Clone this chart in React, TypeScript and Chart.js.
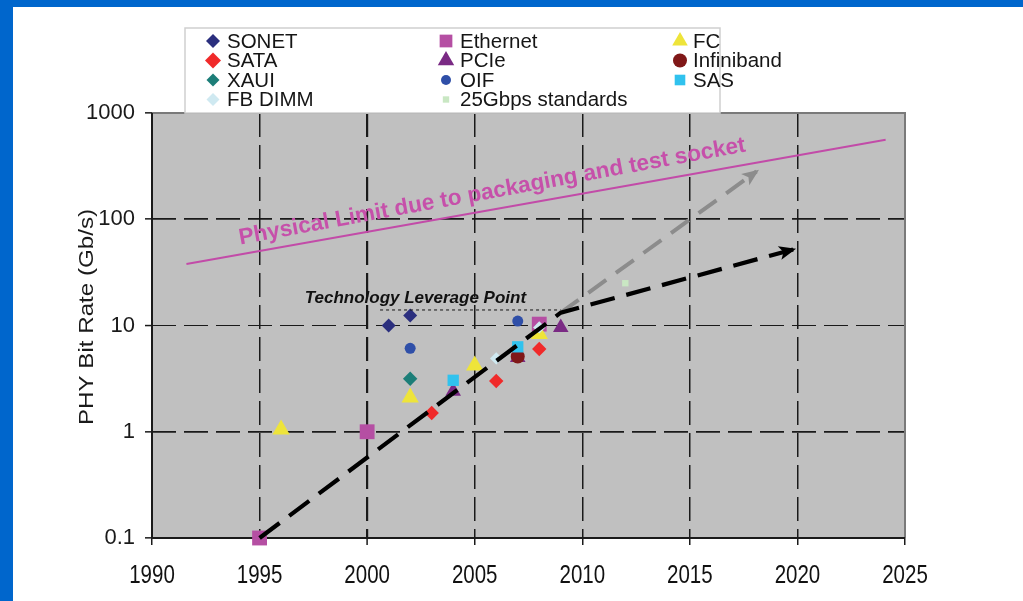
import React, { useEffect, useRef } from 'react';
import { Chart, registerables } from 'chart.js';

Chart.register(...registerables);

// ---------- axis definitions ----------
const YEAR_MIN = 1990;
const YEAR_MAX = 2025;
const YEAR_STEP = 5;
const RATE_TICKS = [0.1, 1, 10, 100, 1000];
const Y_TITLE = 'PHY Bit Rate (Gb/s)';

// ---------- standards (year, Gb/s) ----------
const SONET_X = [2001, 2002];
const SONET_Y = [10, 12.4];
const ETHERNET_X = [1995, 2000, 2008];
const ETHERNET_Y = [0.1, 1, 10.3];
const FC_X = [1996, 2002, 2005, 2008];
const FC_Y = [1.05, 2.1, 4.2, 8.3];
const SATA_X = [2003, 2006, 2008];
const SATA_Y = [1.5, 3, 6];
const PCIE_X = [2004, 2007, 2009];
const PCIE_Y = [2.4, 5, 9.6];
const INFINIBAND_X = [2007];
const INFINIBAND_Y = [5.1];
const XAUI_X = [2002];
const XAUI_Y = [3.15];
const OIF_X = [2002, 2007];
const OIF_Y = [6.1, 11];
const SAS_X = [2004, 2007];
const SAS_Y = [3.05, 6.3];
const FBDIMM_X = [2006, 2008];
const FBDIMM_Y = [4.9, 9.6];
const G25_X = [2012];
const G25_Y = [25];

// ---------- trend lines ----------
const PHYS_LIMIT_X = [1991.6, 2024.1];
const PHYS_LIMIT_Y = [38, 560];
const TREND_X = [1995, 2009, 2019.8];
const TREND_Y = [0.1, 13.2, 52];
const PROJ_HIGH_X = [2009, 2018.1];
const PROJ_HIGH_Y = [13.2, 282];
const LEVERAGE_X = [2000.6, 2009];
const LEVERAGE_Y = [14, 14];

const PHYS_LABEL = 'Physical Limit due to packaging and test socket';
const PHYS_LABEL_AT = [1994.1, 58];
const LEVERAGE_LABEL = 'Technology Leverage Point';
const LEVERAGE_LABEL_AT = [1997.1, 16.3];

const SERIES = [
  { label: 'SONET', xs: SONET_X, ys: SONET_Y, color: '#2B2F7E', style: 'rectRot', r: 7, lr: 7 },
  { label: 'Ethernet', xs: ETHERNET_X, ys: ETHERNET_Y, color: '#B54FA3', style: 'rect', r: 10.5, lr: 9 },
  { label: 'FC', xs: FC_X, ys: FC_Y, color: '#EEE43A', style: 'triangle', r: 10, lr: 9 },
  { label: 'SATA', xs: SATA_X, ys: SATA_Y, color: '#F02A2A', style: 'rectRot', r: 7.2, lr: 8 },
  { label: 'PCIe', xs: PCIE_X, ys: PCIE_Y, color: '#7A2A84', style: 'triangle', r: 9, lr: 9.5 },
  { label: 'Infiniband', xs: INFINIBAND_X, ys: INFINIBAND_Y, color: '#801818', style: 'circle', r: 7, lr: 7 },
  { label: 'XAUI', xs: XAUI_X, ys: XAUI_Y, color: '#1C7E78', style: 'rectRot', r: 7.2, lr: 6.5 },
  { label: 'OIF', xs: OIF_X, ys: OIF_Y, color: '#2F4FA8', style: 'circle', r: 5.5, lr: 5 },
  { label: 'SAS', xs: SAS_X, ys: SAS_Y, color: '#30C2EE', style: 'rect', r: 8, lr: 7.5 },
  { label: 'FB DIMM', xs: FBDIMM_X, ys: FBDIMM_Y, color: '#CFE9F1', style: 'rectRot', r: 6.2, lr: 6.5 },
  { label: '25Gbps standards', xs: G25_X, ys: G25_Y, color: '#C9E7C3', style: 'rect', r: 4.5, lr: 4.5 },
];

const LINES = [
  { label: 'trend', xs: TREND_X, ys: TREND_Y, color: '#000000', width: 4.2, dash: [25, 12], arrow: true },
  { label: 'projection', xs: PROJ_HIGH_X, ys: PROJ_HIGH_Y, color: '#8C8C8C', width: 4, dash: [22, 12], arrow: true },
  { label: 'physical', xs: PHYS_LIMIT_X, ys: PHYS_LIMIT_Y, color: '#C24BA8', width: 2, dash: [], arrow: false },
  { label: 'leverage', xs: LEVERAGE_X, ys: LEVERAGE_Y, color: '#111111', width: 1, dash: [3, 3], arrow: false },
];

const SANS = '"Liberation Sans", Arial, sans-serif';

const pts = (xs: number[], ys: number[]) => xs.map((x, i) => ({ x, y: ys[i] }));

function drawMarker(ctx: CanvasRenderingContext2D, style: string, x: number, y: number, r: number, color: string) {
  ctx.save();
  ctx.fillStyle = color;
  ctx.beginPath();
  if (style === 'rectRot') {
    ctx.moveTo(x, y - r); ctx.lineTo(x + r, y); ctx.lineTo(x, y + r); ctx.lineTo(x - r, y);
  } else if (style === 'rect') {
    const s = r * Math.SQRT1_2;
    ctx.rect(x - s, y - s, 2 * s, 2 * s);
  } else if (style === 'triangle') {
    ctx.moveTo(x, y - r); ctx.lineTo(x + r * 0.866, y + r / 2); ctx.lineTo(x - r * 0.866, y + r / 2);
  } else {
    ctx.arc(x, y, r, 0, Math.PI * 2);
  }
  ctx.closePath();
  ctx.fill();
  ctx.restore();
}

const decor = {
  id: 'decor',
  beforeDraw(chart: any) {
    const { ctx, chartArea: a } = chart;
    ctx.save();
    ctx.fillStyle = '#ffffff';
    ctx.fillRect(0, 0, chart.width, chart.height);
    ctx.fillStyle = '#0066CC';
    ctx.fillRect(0, 0, chart.width, 7);
    ctx.fillRect(0, 0, 13, chart.height);
    ctx.fillStyle = '#C0C0C0';
    ctx.fillRect(a.left, a.top, a.right - a.left, a.bottom - a.top);
    ctx.restore();
  },
  beforeDatasetsDraw(chart: any) {
    const { ctx, chartArea: a } = chart;
    ctx.save();
    ctx.setLineDash([]);
    ctx.lineWidth = 2;
    ctx.strokeStyle = '#7A7A7A';
    ctx.beginPath();
    ctx.moveTo(a.left, a.top); ctx.lineTo(a.right, a.top); ctx.lineTo(a.right, a.bottom);
    ctx.stroke();
    ctx.strokeStyle = '#1A1A1A';
    ctx.beginPath();
    ctx.moveTo(a.left, a.top); ctx.lineTo(a.left, a.bottom); ctx.lineTo(a.right, a.bottom);
    ctx.stroke();
    ctx.restore();
  },
  afterDatasetsDraw(chart: any) {
    const { ctx } = chart;
    const sx = chart.scales.x;
    const sy = chart.scales.y;
    // arrow heads
    LINES.forEach((l, i) => {
      if (!l.arrow) return;
      const meta = chart.getDatasetMeta(i);
      const n = meta.data.length;
      const p0 = meta.data[n - 2];
      const p1 = meta.data[n - 1];
      const ang = Math.atan2(p1.y - p0.y, p1.x - p0.x);
      ctx.save();
      ctx.translate(p1.x, p1.y);
      ctx.rotate(ang);
      ctx.fillStyle = l.color;
      ctx.beginPath();
      ctx.moveTo(3, 0);
      ctx.lineTo(-14, -7);
      ctx.lineTo(-10, 0);
      ctx.lineTo(-14, 7);
      ctx.closePath();
      ctx.fill();
      ctx.restore();
    });
    // physical limit label
    const q0x = sx.getPixelForValue(PHYS_LIMIT_X[0]);
    const q0y = sy.getPixelForValue(PHYS_LIMIT_Y[0]);
    const q1x = sx.getPixelForValue(PHYS_LIMIT_X[1]);
    const q1y = sy.getPixelForValue(PHYS_LIMIT_Y[1]);
    const ang = Math.atan2(q1y - q0y, q1x - q0x) - 0.006;
    ctx.save();
    ctx.translate(sx.getPixelForValue(PHYS_LABEL_AT[0]), sy.getPixelForValue(PHYS_LABEL_AT[1]));
    ctx.rotate(ang);
    ctx.font = `bold 22.6px ${SANS}`;
    ctx.fillStyle = '#C650AA';
    ctx.textAlign = 'left';
    ctx.textBaseline = 'alphabetic';
    ctx.fillText(PHYS_LABEL, 0, 0);
    ctx.restore();
    // leverage label
    ctx.save();
    ctx.font = `italic bold 17px ${SANS}`;
    ctx.fillStyle = '#111111';
    ctx.textAlign = 'left';
    ctx.textBaseline = 'alphabetic';
    ctx.fillText(LEVERAGE_LABEL, sx.getPixelForValue(LEVERAGE_LABEL_AT[0]), sy.getPixelForValue(LEVERAGE_LABEL_AT[1]));
    ctx.restore();
  },
  afterDraw(chart: any) {
    const { ctx, chartArea: a } = chart;
    const sx = chart.scales.x;
    // x tick labels (tall, narrow lettering)
    ctx.save();
    ctx.font = `25px ${SANS}`;
    ctx.fillStyle = '#111111';
    ctx.textAlign = 'center';
    ctx.textBaseline = 'middle';
    sx.ticks.forEach((t: any) => {
      ctx.save();
      ctx.translate(sx.getPixelForValue(t.value), a.bottom + 38);
      ctx.scale(0.82, 1);
      ctx.fillText(String(t.value), 0, 0);
      ctx.restore();
    });
    ctx.restore();
    // y title
    ctx.save();
    ctx.translate(a.left - 65, 317);
    ctx.rotate(-Math.PI / 2);
    ctx.scale(1.15, 1);
    ctx.font = `21px ${SANS}`;
    ctx.fillStyle = '#1A1A1A';
    ctx.textAlign = 'center';
    ctx.textBaseline = 'middle';
    ctx.fillText(Y_TITLE, 0, 0);
    ctx.restore();
    // legend box
    const bx = 185, by = 28, bw = 535, bh = 85;
    ctx.save();
    ctx.fillStyle = '#ffffff';
    ctx.fillRect(bx, by, bw, bh);
    ctx.strokeStyle = '#CFCFCF';
    ctx.lineWidth = 1.5;
    ctx.strokeRect(bx, by, bw, bh);
    const markerX = [28, 261, 495];
    const textX = [42, 275, 508];
    const rowY = [13, 32.5, 52, 71.5];
    ctx.font = `20.5px ${SANS}`;
    ctx.textBaseline = 'middle';
    ctx.textAlign = 'left';
    SERIES.forEach((s, i) => {
      const c = i % 3;
      const r = Math.floor(i / 3);
      drawMarker(ctx, s.style, bx + markerX[c], by + rowY[r], s.lr, s.color);
      ctx.fillStyle = '#151515';
      ctx.fillText(s.label, bx + textX[c], by + rowY[r] + 1);
    });
    ctx.restore();
  },
};

export default function App() {
  const ref = useRef<HTMLCanvasElement | null>(null);
  useEffect(() => {
    document.body.style.margin = '0';
    const canvas = ref.current;
    if (!canvas) return;
    const lineSets = LINES.map((l) => ({
      label: l.label,
      data: pts(l.xs, l.ys),
      showLine: true,
      borderColor: l.color,
      backgroundColor: l.color,
      borderWidth: l.width,
      borderDash: l.dash,
      borderCapStyle: 'butt',
      pointRadius: 0,
      pointHoverRadius: 0,
      pointHitRadius: 0,
      tension: 0,
      fill: false,
      order: 0,
      clip: false,
    }));
    const markerSets = SERIES.slice().reverse().map((s) => ({
      label: s.label,
      data: pts(s.xs, s.ys),
      showLine: false,
      pointStyle: s.style,
      pointRadius: s.r,
      pointHoverRadius: s.r,
      backgroundColor: s.color,
      borderColor: s.color,
      borderWidth: 0,
      order: 1,
      clip: false,
    }));
    const chart = new Chart(canvas, {
      type: 'scatter',
      data: { datasets: [...lineSets, ...markerSets] as any },
      plugins: [decor],
      options: {
        responsive: false,
        animation: false,
        events: [],
        layout: { padding: { left: 72, right: 118, top: 113, bottom: 0 } },
        plugins: { legend: { display: false }, tooltip: { enabled: false } },
        scales: {
          x: {
            type: 'linear',
            min: YEAR_MIN,
            max: YEAR_MAX,
            afterFit: (s: any) => { s.height = 63; },
            ticks: {
              display: false,
              stepSize: YEAR_STEP,
            },
            grid: {
              color: '#1A1A1A',
              lineWidth: (c: any) => (c.tick && c.tick.value === 2000 ? 2.2 : 1.5),
              tickLength: 7,
              tickColor: '#1A1A1A',
              tickWidth: 1.5,
              tickBorderDash: [],
            },
            border: { display: false, dash: [24, 8] },
          },
          y: {
            type: 'logarithmic',
            min: RATE_TICKS[0],
            max: RATE_TICKS[RATE_TICKS.length - 1],
            afterFit: (s: any) => { s.width = 80; },
            afterBuildTicks: (s: any) => { s.ticks = RATE_TICKS.map((v) => ({ value: v })); },
            ticks: {
              color: '#1A1A1A',
              padding: 10,
              font: { family: SANS, size: 22 },
              callback: (v: any) => String(v),
            },
            grid: {
              color: '#1A1A1A',
              lineWidth: (c: any) => (c.tick && c.tick.value === 10 ? 1.1 : 1.7),
              tickLength: 7,
              tickColor: '#1A1A1A',
              tickWidth: 1.5,
              tickBorderDash: [],
            },
            border: { display: false, dash: [24, 8] },
          },
        },
      } as any,
    });
    return () => chart.destroy();
  }, []);
  return (
    <div style={{ position: 'fixed', left: 0, top: 0, width: 1023, height: 601 }}>
      <canvas ref={ref} width={1023} height={601} style={{ display: 'block' }} />
    </div>
  );
}
